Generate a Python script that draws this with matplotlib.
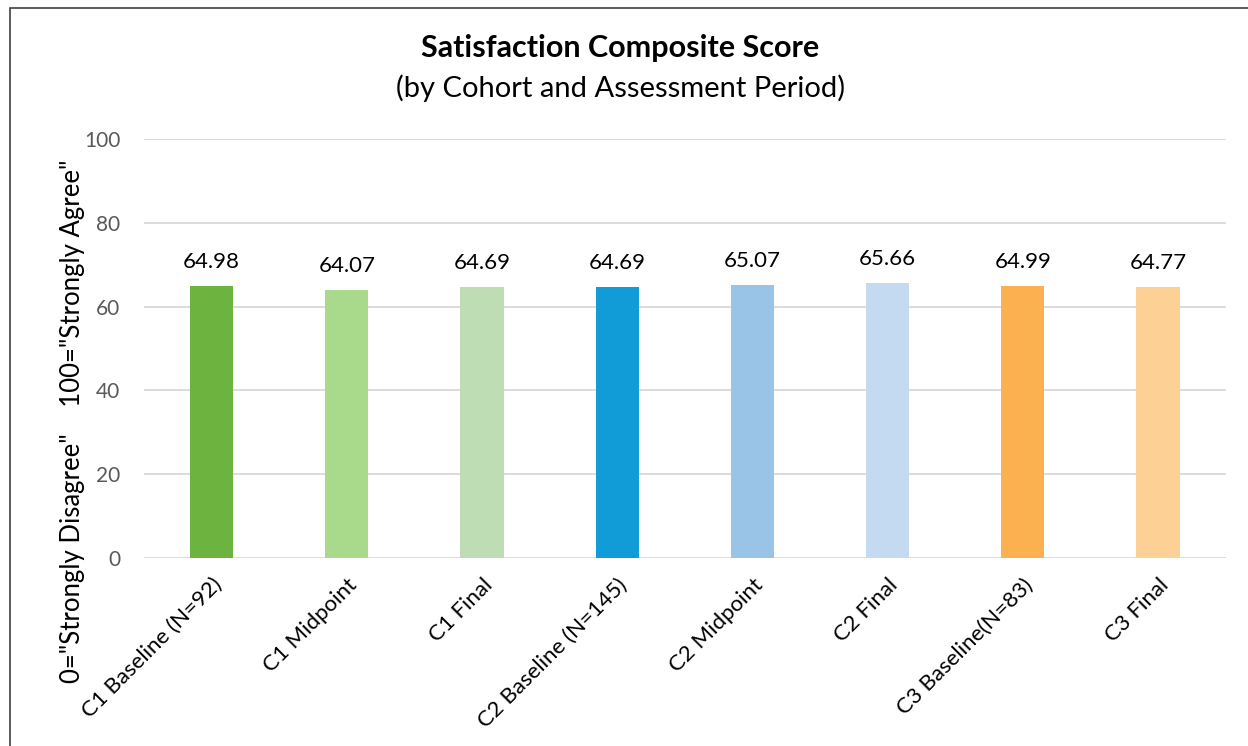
import numpy as np
import matplotlib.pyplot as plt
from matplotlib.patches import Rectangle

plt.rcParams['font.family'] = ['Lato', 'DejaVu Sans']

categories = ['C1 Baseline (N=92)', 'C1 Midpoint', 'C1 Final', 'C2 Baseline (N=145)',
              'C2 Midpoint', 'C2 Final', 'C3 Baseline(N=83)', 'C3 Final']
scores = [64.98, 64.07, 64.69, 64.69, 65.07, 65.66, 64.99, 64.77]
colors = ['#6DB33F', '#A9D98A', '#BFDDB4', '#119CD8',
          '#99C4E8', '#C3DAF0', '#FBB14F', '#FDD195']

fig = plt.figure(figsize=(12.48, 7.46), dpi=100)
ax = fig.add_axes([0.1154, 0.252, 0.8666, 0.5617])

x = np.arange(len(categories))
bars = ax.bar(x, scores, width=0.32, color=colors, zorder=3)

for b, v in zip(bars, scores):
    ax.annotate(f'{v:.2f}', (b.get_x() + b.get_width() / 2, v),
                xytext=(0, 10), textcoords='offset points',
                ha='center', va='bottom', fontsize=16, color='#000000')

ax.set_xlim(-0.5, len(categories) - 0.5)
ax.set_ylim(0, 100)
ax.set_yticks(np.arange(0, 101, 20))
ax.yaxis.grid(True, color='#D9D9D9', linewidth=1.3)
ax.set_axisbelow(True)
for s in ax.spines.values():
    s.set_visible(False)
ax.tick_params(axis='both', length=0)
ax.tick_params(axis='y', labelsize=15, labelcolor='#595959', pad=17)
ax.set_xticks(x)
ax.set_xticklabels(categories, rotation=45, ha='right', rotation_mode='anchor',
                   fontsize=16)
ax.tick_params(axis='x', pad=12)

fig.text(0.497, 0.935, 'Satisfaction Composite Score', ha='center', va='center',
         fontsize=22, fontweight='bold')
fig.text(0.497, 0.882, '(by Cohort and Assessment Period)', ha='center', va='center',
         fontsize=21)
fig.text(0.058, 0.435, '0="Strongly Disagree"    100="Strongly Agree"',
         rotation=90, ha='center', va='center', fontsize=18.5)

fig.patches.append(Rectangle((10 / 1248, -0.05), 1.2, 1.05 - 8 / 746,
                             transform=fig.transFigure, fill=False,
                             edgecolor='#404040', linewidth=1.2))

fig.savefig('out.png', dpi=100)
